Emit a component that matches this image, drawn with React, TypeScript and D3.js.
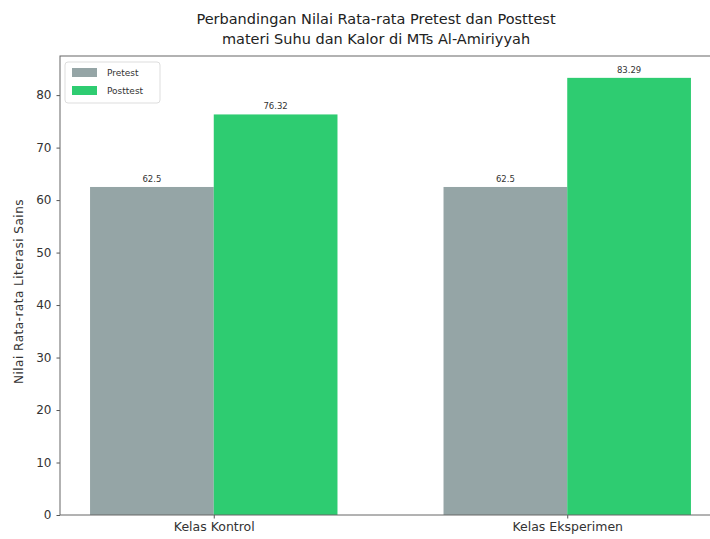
import React, { useEffect, useRef } from 'react';
import * as d3 from 'd3';

const classes = ['Kelas Kontrol', 'Kelas Eksperimen'];
const pretest = [62.5, 62.5];
const posttest = [76.32, 83.29];
const yTicks = [0, 10, 20, 30, 40, 50, 60, 70, 80];
const seriesNames = ['Pretest', 'Posttest'];
const seriesColors = ['#95a5a6', '#2ecc71'];
const titleLines = [
  'Perbandingan Nilai Rata-rata Pretest dan Posttest',
  'materi Suhu dan Kalor di MTs Al-Amiriyyah',
];

const FONT = '"DejaVu Sans", "Noto Sans", sans-serif';

const App: React.FC = () => {
  const svgRef = useRef<SVGSVGElement>(null);

  useEffect(() => {
    if (!svgRef.current) return;
    const svg = d3.select(svgRef.current);
    svg.selectAll('*').remove();

    const left = 60, right = 721, top = 56, bottom = 515;
    const barW = 0.35;

    // matplotlib style limits with 5% margin
    const xScale = d3.scaleLinear().domain([-0.435, 1.435]).range([left, right]);
    const yMax = d3.max(posttest)! * 1.05;
    const yScale = d3.scaleLinear().domain([0, yMax]).range([bottom, top]);

    const series = [pretest, posttest];

    // Bars + value labels
    series.forEach((vals, s) => {
      const offset = s === 0 ? -barW / 2 : barW / 2;
      vals.forEach((v, i) => {
        const cx = i + offset;
        const x0 = xScale(cx - barW / 2);
        const x1 = xScale(cx + barW / 2);
        svg.append('rect')
          .attr('x', x0)
          .attr('y', yScale(v))
          .attr('width', x1 - x0)
          .attr('height', yScale(0) - yScale(v))
          .attr('fill', seriesColors[s]);

        svg.append('text')
          .attr('x', (x0 + x1) / 2)
          .attr('y', yScale(v) - 5)
          .attr('text-anchor', 'middle')
          .style('font-family', FONT)
          .style('font-size', '8.5px')
          .style('fill', '#333')
          .text(String(v));
      });
    });

    // Y axis
    const yAxis = svg.append('g')
      .attr('transform', `translate(${left},0)`)
      .call(d3.axisLeft(yScale).tickValues(yTicks).tickSize(3.5).tickPadding(5));
    yAxis.selectAll('text')
      .style('font-family', FONT)
      .style('font-size', '12px')
      .style('fill', '#333');

    // X axis
    const xAxis = svg.append('g')
      .attr('transform', `translate(0,${bottom})`)
      .call(d3.axisBottom(xScale)
        .tickValues(classes.map((_, i) => i))
        .tickFormat((_, i) => classes[i])
        .tickSize(3.5)
        .tickPadding(4));
    xAxis.selectAll('text')
      .style('font-family', FONT)
      .style('font-size', '12.5px')
      .style('fill', '#333');

    svg.selectAll('.domain').remove();
    svg.selectAll('.tick line').style('stroke', '#555');

    // Spines
    svg.append('rect')
      .attr('x', left)
      .attr('y', top)
      .attr('width', right - left)
      .attr('height', bottom - top)
      .attr('fill', 'none')
      .attr('stroke', '#666')
      .attr('stroke-width', 1);

    // Y label
    svg.append('text')
      .attr('transform', `translate(23,${(top + bottom) / 2 + 6}) rotate(-90)`)
      .attr('text-anchor', 'middle')
      .style('font-family', FONT)
      .style('font-size', '12px')
      .style('letter-spacing', '0.5px')
      .style('fill', '#333')
      .text('Nilai Rata-rata Literasi Sains');

    // Title
    titleLines.forEach((line, i) => {
      svg.append('text')
        .attr('x', 376)
        .attr('y', 24 + i * 20)
        .attr('text-anchor', 'middle')
        .style('font-family', FONT)
        .style('font-size', '14.5px')
        .style('fill', '#222')
        .text(line);
    });

    // Legend
    const legend = svg.append('g').attr('transform', 'translate(65,62)');
    legend.append('rect')
      .attr('width', 95)
      .attr('height', 41)
      .attr('rx', 3)
      .attr('fill', 'white')
      .attr('fill-opacity', 0.8)
      .attr('stroke', '#ddd');
    seriesNames.forEach((name, i) => {
      legend.append('rect')
        .attr('x', 7)
        .attr('y', 6 + i * 18)
        .attr('width', 25)
        .attr('height', 9)
        .attr('fill', seriesColors[i]);
      legend.append('text')
        .attr('x', 42)
        .attr('y', 14 + i * 18)
        .style('font-family', FONT)
        .style('font-size', '9px')
        .style('fill', '#333')
        .text(name);
    });
  }, []);

  return (
    <svg ref={svgRef} width={710} height={539} style={{ display: 'block', position: 'absolute', left: 0, top: 0, background: 'white' }} />
  );
};

export default App;
